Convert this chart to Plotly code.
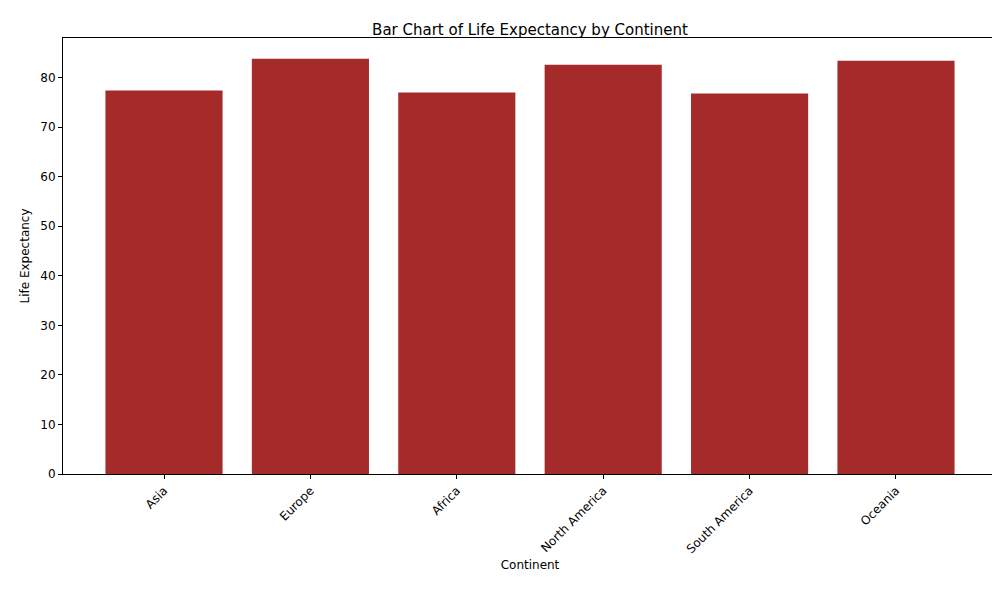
import plotly.graph_objects as go

continents = ["Asia", "Europe", "Africa", "North America", "South America", "Oceania"]
life_expectancy = [77.4, 83.8, 77.0, 82.6, 76.8, 83.4]

fig = go.Figure()
fig.add_trace(go.Bar(x=list(range(len(continents))), y=life_expectancy,
                     marker_color="#A52A2A", marker_line_width=0, width=0.8))

axis_common = dict(showline=True, linecolor="black", linewidth=1, mirror=True,
                   ticks="outside", ticklen=4, tickcolor="black", showgrid=False,
                   zeroline=False, tickfont=dict(size=12, color="black"))

fig.update_layout(
    width=1000, height=600,
    paper_bgcolor="white", plot_bgcolor="white",
    font=dict(family="DejaVu Sans", color="black"),
    title=dict(text="Bar Chart of Life Expectancy by Continent", x=0.522, xanchor="center",
               y=0.973, font=dict(size=15)),
    margin=dict(l=55, r=11, t=30, b=134),
    showlegend=False,
    xaxis=dict(axis_common, tickmode="array", tickvals=list(range(len(continents))),
               ticktext=continents, tickangle=-45, range=[-0.69, 5.69],
               title=dict(text="Continent", font=dict(size=12), standoff=5)),
    yaxis=dict(axis_common, range=[0, 88], dtick=10,
               title=dict(text="Life Expectancy", font=dict(size=12), standoff=8)),
)

fig.write_html("out.html")
